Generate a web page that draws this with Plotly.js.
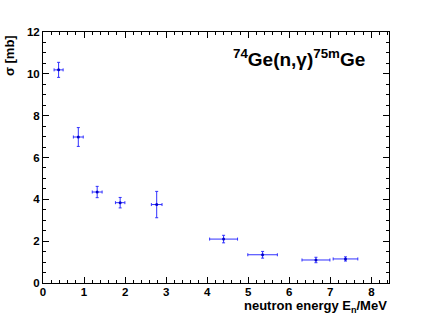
<!DOCTYPE html>
<html>
<head>
<meta charset="utf-8">
<script src="https://cdn.plot.ly/plotly-3.0.1.min.js"></script>
<style>html,body{margin:0;padding:0;background:#fff;}#chart{width:432px;height:315px;}</style>
</head>
<body>
<div id="chart"></div>
<script>
const energy = [0.38, 0.86, 1.32, 1.88, 2.77, 4.40, 5.35, 6.65, 7.37];
const energyErr = [0.11, 0.12, 0.12, 0.115, 0.13, 0.34, 0.36, 0.34, 0.30];
const sigma = [10.19, 6.98, 4.35, 3.84, 3.75, 2.10, 1.35, 1.10, 1.15];
const sigmaErr = [0.36, 0.45, 0.27, 0.25, 0.63, 0.18, 0.16, 0.13, 0.10];

const trace = {
  type: 'scatter', mode: 'markers',
  x: energy, y: sigma,
  error_x: {type: 'data', array: energyErr, visible: true, color: '#3030ff', thickness: 1, width: 1.5},
  error_y: {type: 'data', array: sigmaErr, visible: true, color: '#3030ff', thickness: 1, width: 1.5},
  marker: {color: '#0000cc', size: 3},
  hoverinfo: 'none', showlegend: false
};

const axisCommon = {
  showgrid: false, zeroline: false, showline: true, linecolor: '#000', linewidth: 1,
  mirror: 'allticks', ticks: 'inside', ticklen: 6, tickcolor: '#000', tickwidth: 1,
  tickfont: {family: 'Liberation Sans, Arial, sans-serif', size: 11.5, color: '#000', weight: 'bold'}
};

const layout = {
  width: 432, height: 315,
  margin: {l: 43, r: 43, t: 32, b: 32, pad: 0},
  paper_bgcolor: '#fff', plot_bgcolor: '#fff',
  font: {family: 'Liberation Sans, Arial, sans-serif', color: '#000'},
  xaxis: Object.assign({}, axisCommon, {
    range: [0, 8.43], tick0: 0, dtick: 1, tickmode: 'linear', ticklabelstandoff: -2,
    minor: {ticks: 'inside', dtick: 0.2, ticklen: 3, tickcolor: '#000', showgrid: false}
  }),
  yaxis: Object.assign({}, axisCommon, {
    range: [0, 12], tick0: 0, dtick: 2, tickmode: 'linear',
    minor: {ticks: 'inside', dtick: 0.5, ticklen: 3, tickcolor: '#000', showgrid: false}
  }),
  annotations: [
    {text: '<sup>74</sup>Ge(n,γ)<sup>75m</sup>Ge', xref: 'paper', yref: 'paper', x: 0.935, y: 0.895,
     xanchor: 'right', yanchor: 'middle', showarrow: false,
     font: {size: 19, weight: 'bold', color: '#000'}},
    {text: 'neutron energy E<sub>n</sub>/MeV', xref: 'paper', yref: 'paper', x: 1, y: 0,
     xanchor: 'right', yanchor: 'top', yshift: -13, xshift: 0, showarrow: false,
     font: {size: 13, weight: 'bold', color: '#000'}},
    {text: 'σ [mb]', xref: 'paper', yref: 'paper', x: 0, y: 1, xanchor: 'right', yanchor: 'top',
     xshift: -24, yshift: -1, textangle: -90, showarrow: false,
     font: {size: 13, weight: 'bold', color: '#000'}}
  ]
};

Plotly.newPlot('chart', [trace], layout, {staticPlot: true, displayModeBar: false});
</script>
</body>
</html>
